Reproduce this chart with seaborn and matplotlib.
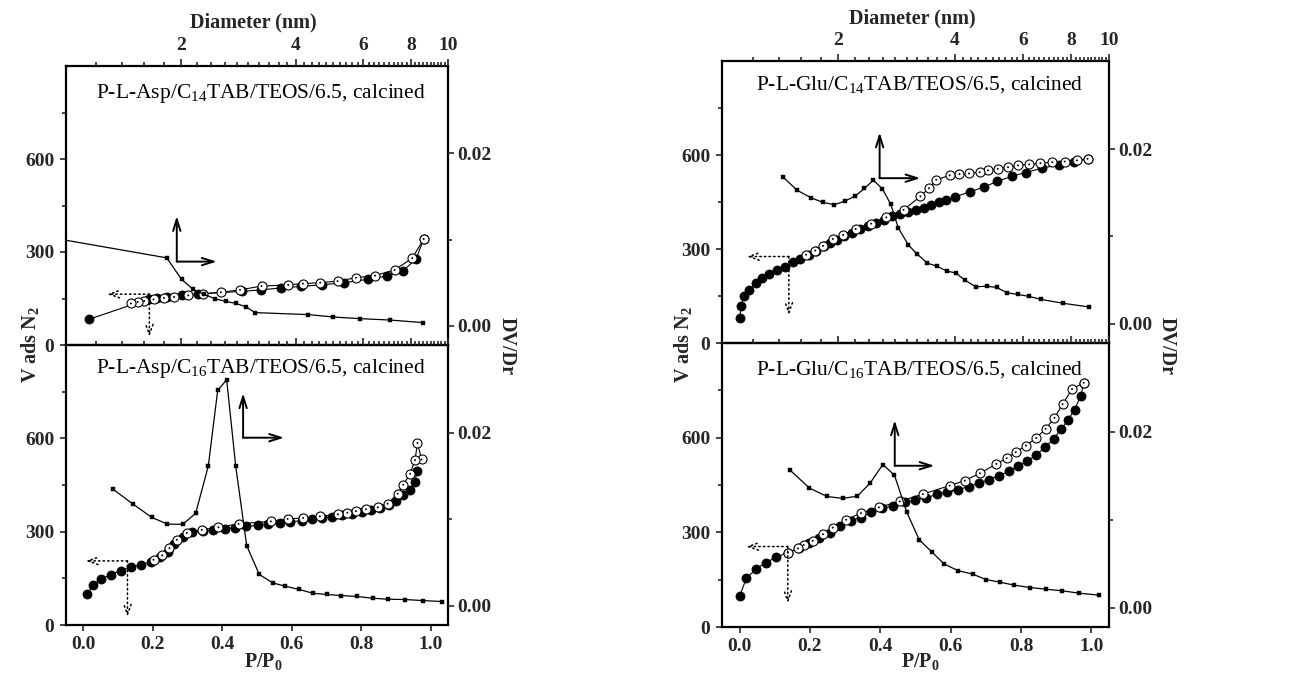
import numpy as np
import matplotlib
matplotlib.use('Agg')
import matplotlib.pyplot as plt
import seaborn as sns
from matplotlib.ticker import NullFormatter

# ---------------- data ----------------
# P-L-Asp / C14TAB
asp14_ads_p = [0.016, 0.188, 0.211, 0.242, 0.283, 0.331, 0.458, 0.511, 0.569, 0.626, 0.687,
               0.750, 0.820, 0.873, 0.921, 0.958, 0.980]
asp14_ads_v = [83, 148, 153, 156, 160, 165, 173, 178, 184, 189, 194, 201, 212, 222, 240, 277, 342]
asp14_des_p = [0.980, 0.947, 0.896, 0.840, 0.785, 0.732, 0.682, 0.632, 0.590, 0.513, 0.451,
               0.396, 0.345, 0.302, 0.261, 0.232, 0.202, 0.175, 0.156, 0.137]
asp14_des_v = [342, 280, 242, 224, 217, 206, 201, 198, 194, 190, 178, 170, 165, 160, 155, 152,
               147, 142, 139, 134]
asp14_dv_d = [0.95, 1.835, 2.008, 2.154, 2.298, 2.455, 2.618, 2.781, 2.954, 3.125, 4.31, 5.01,
              5.88, 7.05, 8.62]
asp14_dv_y = [0.0101, 0.00789, 0.00539, 0.00423, 0.00366, 0.00316, 0.00285, 0.00262, 0.00224,
              0.00155, 0.00132, 0.00104, 0.00085, 0.00069, 0.00039]

# P-L-Asp / C16TAB
asp16_ads_p = [0.011, 0.029, 0.052, 0.079, 0.107, 0.136, 0.167, 0.195, 0.222, 0.245, 0.262,
               0.286, 0.314, 0.345, 0.374, 0.407, 0.436, 0.469, 0.502, 0.533, 0.565, 0.595,
               0.629, 0.659, 0.686, 0.717, 0.745, 0.774, 0.803, 0.829, 0.854, 0.879, 0.900,
               0.921, 0.940, 0.955, 0.960]
asp16_ads_v = [100, 129, 148, 162, 175, 185, 194, 203, 217, 234, 260, 283, 298, 302, 305, 310,
               313, 317, 320, 325, 329, 332, 335, 340, 344, 347, 352, 358, 362, 369, 376, 386,
               400, 417, 433, 460, 495]
asp16_des_p = [0.974, 0.962, 0.955, 0.941, 0.921, 0.905, 0.876, 0.848, 0.814, 0.785, 0.760,
               0.733, 0.681, 0.633, 0.588, 0.540, 0.447, 0.389, 0.341, 0.298, 0.269, 0.248,
               0.227, 0.202]
asp16_des_v = [532, 585, 530, 486, 451, 422, 390, 378, 372, 366, 361, 356, 349, 344, 341, 333,
               325, 314, 306, 296, 274, 247, 224, 210]
asp16_dv_d = [1.325, 1.501, 1.676, 1.842, 2.020, 2.185, 2.358, 2.495, 2.634, 2.781, 2.972,
              3.207, 3.475, 3.745, 4.074, 4.423, 4.813, 5.236, 5.768, 6.350, 6.98, 7.72, 8.58,
              9.63]
asp16_dv_y = [0.01349, 0.01172, 0.01022, 0.00944, 0.00941, 0.01068, 0.01615, 0.02486, 0.02609,
              0.01615, 0.00694, 0.00363, 0.00266, 0.00228, 0.00190, 0.00147, 0.00132, 0.00120,
              0.00109, 0.00089, 0.00077, 0.00074, 0.00062, 0.00051]

# P-L-Glu / C14TAB
glu14_ads_p = [0.000, 0.005, 0.012, 0.026, 0.046, 0.064, 0.085, 0.106, 0.128, 0.152, 0.173,
               0.196, 0.218, 0.239, 0.256, 0.277, 0.298, 0.319, 0.341, 0.365, 0.388, 0.410,
               0.434, 0.457, 0.478, 0.502, 0.523, 0.545, 0.567, 0.588, 0.611, 0.654, 0.695,
               0.733, 0.774, 0.813, 0.860, 0.907, 0.950, 0.989]
glu14_ads_v = [80, 119, 151, 170, 190, 207, 220, 232, 244, 257, 268, 281, 293, 308, 318, 328,
               340, 352, 363, 374, 384, 393, 405, 411, 417, 425, 432, 441, 449, 457, 466, 482,
               498, 516, 532, 544, 558, 569, 577, 588]
glu14_des_p = [0.989, 0.959, 0.924, 0.889, 0.855, 0.823, 0.791, 0.763, 0.734, 0.706, 0.682,
               0.652, 0.625, 0.597, 0.559, 0.538, 0.514, 0.466, 0.417, 0.374, 0.330, 0.294,
               0.265, 0.237, 0.215, 0.189]
glu14_des_v = [588, 583, 579, 577, 574, 570, 567, 561, 556, 551, 545, 541, 539, 535, 521, 494,
               468, 425, 401, 381, 364, 345, 332, 310, 295, 282]
glu14_dv_d = [1.437, 1.562, 1.697, 1.822, 1.952, 2.080, 2.208, 2.333, 2.461, 2.597, 2.729,
              2.856, 3.030, 3.186, 3.393, 3.587, 3.807, 4.023, 4.244, 4.531, 4.829, 5.123,
              5.457, 5.803, 6.217, 6.665, 7.607, 8.879]
glu14_dv_y = [0.01682, 0.01531, 0.01444, 0.01391, 0.01364, 0.01406, 0.01463, 0.01550, 0.01644,
              0.01546, 0.01369, 0.01096, 0.00904, 0.00802, 0.00695, 0.00661, 0.00604, 0.00582,
              0.00499, 0.00423, 0.00431, 0.00416, 0.00355, 0.00337, 0.00314, 0.00280, 0.00235,
              0.00193]

# P-L-Glu / C16TAB
glu16_ads_p = [0.000, 0.019, 0.046, 0.074, 0.104, 0.137, 0.169, 0.197, 0.226, 0.256, 0.284,
               0.316, 0.344, 0.374, 0.406, 0.436, 0.469, 0.499, 0.531, 0.561, 0.590, 0.621,
               0.651, 0.681, 0.709, 0.737, 0.766, 0.792, 0.818, 0.843, 0.869, 0.893, 0.914,
               0.933, 0.952, 0.970, 0.978]
glu16_ads_v = [97, 154, 183, 204, 221, 236, 249, 265, 281, 299, 319, 337, 347, 363, 376, 384,
               395, 402, 410, 420, 427, 435, 445, 456, 467, 480, 493, 510, 525, 546, 570, 597,
               626, 655, 689, 732, 774]
glu16_des_p = [0.978, 0.945, 0.918, 0.895, 0.870, 0.843, 0.814, 0.785, 0.759, 0.730, 0.683,
               0.640, 0.597, 0.521, 0.455, 0.396, 0.345, 0.303, 0.265, 0.237, 0.208, 0.182,
               0.166, 0.137]
glu16_des_v = [774, 754, 706, 663, 628, 599, 575, 554, 535, 517, 487, 464, 448, 421, 398, 379,
               361, 340, 315, 294, 273, 260, 249, 236]
glu16_dv_d = [1.501, 1.683, 1.866, 2.052, 2.239, 2.414, 2.603, 2.789, 3.002, 3.235, 3.494,
              3.752, 4.078, 4.441, 4.808, 5.224, 5.687, 6.244, 6.866, 7.580, 8.368, 9.423]
glu16_dv_y = [0.01562, 0.01360, 0.01265, 0.01242, 0.01269, 0.01417, 0.01627, 0.01509, 0.01086,
              0.00770, 0.00629, 0.00496, 0.00420, 0.00382, 0.00320, 0.00290, 0.00256, 0.00229,
              0.00210, 0.00191, 0.00165, 0.00142]

panel_titles = [r"P-L-Asp/C$_{14}$TAB/TEOS/6.5, calcined",
                r"P-L-Asp/C$_{16}$TAB/TEOS/6.5, calcined",
                r"P-L-Glu/C$_{14}$TAB/TEOS/6.5, calcined",
                r"P-L-Glu/C$_{16}$TAB/TEOS/6.5, calcined"]
left_ticks = [0, 300, 600]
right_ticks = [0.00, 0.02]
right_tick_labels = ['0.00', '0.02']
bottom_ticks = [0.0, 0.2, 0.4, 0.6, 0.8, 1.0]
top_ticks = [2, 4, 6, 8, 10]

# annotation arrows (corner P, corner V, left/right P end, up/down V end)
solid_arrows = [(0.269, 269, 0.384, 416), (0.460, 602, 0.578, 745),
                (0.398, 526, 0.514, 672), (0.441, 511, 0.554, 655)]
dotted_arrows = [(0.190, 164, 0.069, 27), (0.127, 206, 0.007, 27),
                 (0.140, 276, 0.021, 90), (0.137, 255, 0.019, 76)]

# ---------------- style ----------------
sns.set_theme(style='ticks')
plt.rcParams['font.family'] = ['Liberation Serif', 'DejaVu Serif']
plt.rcParams['mathtext.fontset'] = 'custom'
plt.rcParams['mathtext.rm'] = 'Liberation Serif'
plt.rcParams['mathtext.it'] = 'Liberation Serif:italic'
plt.rcParams['mathtext.bf'] = 'Liberation Serif:bold'

fig = plt.figure(figsize=(13.01, 6.75), dpi=100)
W, H = 1301.0, 675.0


def rect(x0, y0, x1, y1):
    return [x0 / W, 1 - y1 / H, (x1 - x0) / W, (y1 - y0) / H]


rects = [rect(66, 66, 448, 345), rect(66, 345, 448, 625),
         rect(722, 61, 1109, 343), rect(722, 343, 1109, 627)]
datasets = [
    (asp14_ads_p, asp14_ads_v, asp14_des_p, asp14_des_v, asp14_dv_d, asp14_dv_y),
    (asp16_ads_p, asp16_ads_v, asp16_des_p, asp16_des_v, asp16_dv_d, asp16_dv_y),
    (glu14_ads_p, glu14_ads_v, glu14_des_p, glu14_des_v, glu14_dv_d, glu14_dv_y),
    (glu16_ads_p, glu16_ads_v, glu16_des_p, glu16_des_v, glu16_dv_d, glu16_dv_y),
]
title_y = [0.885, 0.900, 0.897, 0.888]
is_top = [True, False, True, False]

tickfont = dict(fontsize=14, fontweight='bold')
minor_d = [v for v in np.round(np.arange(1.2, 10.0, 0.2), 1) if v not in (2.0, 4.0, 6.0, 8.0)]

for i in range(4):
    ap, av, dp, dvv, dd, dy = datasets[i]
    ax = fig.add_axes(rects[i])
    ax.set_facecolor('none')
    # adsorption (filled)
    sns.lineplot(x=ap, y=av, ax=ax, sort=False, estimator=None, color='black', lw=0.8,
                 marker='o', markersize=6.5, markerfacecolor='black',
                 markeredgecolor='black', markeredgewidth=0.6)
    # desorption (open, dotted centre)
    sns.lineplot(x=dp, y=dvv, ax=ax, sort=False, estimator=None, color='black', lw=0.8,
                 marker='o', markersize=6.5, markerfacecolor='white',
                 markeredgecolor='black', markeredgewidth=0.8)
    sns.scatterplot(x=dp, y=dvv, ax=ax, s=2, color='black', edgecolor='none', zorder=5)
    ax.set_xlim(-0.05, 1.05)
    ax.set_ylim(0, 900)
    ax.set_xlabel('')
    ax.set_ylabel('')
    ax.set_yticks(left_ticks)
    ax.set_yticklabels([str(t) for t in left_ticks], **tickfont)
    ax.set_yticks([150, 450, 750], minor=True)
    ax.tick_params(axis='y', which='both', left=True, right=False, direction='out', width=1.2)
    ax.tick_params(axis='y', which='major', length=4.5, pad=4)
    ax.tick_params(axis='y', which='minor', length=3)
    if is_top[i]:
        ax.set_xticks([])
        ax.tick_params(axis='x', bottom=False, labelbottom=False)
    else:
        ax.set_xticks(bottom_ticks)
        ax.set_xticklabels(['%.1f' % t for t in bottom_ticks], **tickfont)
        ax.tick_params(axis='x', which='major', direction='out', length=4, width=1.2, pad=4)
    for s in ax.spines.values():
        s.set_linewidth(1.6)
        s.set_color('black')
        s.set_visible(True)

    # arrows
    cx, cy, ex, ey = solid_arrows[i]
    ap_kw = dict(arrowstyle='->,head_length=0.7,head_width=0.22', lw=1.4, color='black',
                 shrinkA=0, shrinkB=0)
    ax.annotate('', xy=(cx, ey), xytext=(cx, cy), arrowprops=ap_kw)
    ax.annotate('', xy=(ex, cy), xytext=(cx, cy), arrowprops=ap_kw)
    cx, cy, ex, ey = dotted_arrows[i]
    dp_kw = dict(arrowstyle='->,head_length=0.6,head_width=0.22', lw=1.1, color='black',
                 linestyle=(0, (1, 2)), shrinkA=0, shrinkB=0)
    ax.annotate('', xy=(ex, cy), xytext=(cx, cy), arrowprops=dp_kw)
    ax.annotate('', xy=(cx, ey), xytext=(cx, cy), arrowprops=dp_kw)

    ax.text(0.51, title_y[i], panel_titles[i], transform=ax.transAxes, ha='center',
            va='baseline', fontsize=15.5, color='black')

    # DV/Dr axes (diameter, log)
    axd = fig.add_axes(rects[i], frameon=False, label='dv%d' % i)
    axd.set_facecolor('none')
    sns.lineplot(x=dd, y=dy, ax=axd, sort=False, estimator=None, color='black', lw=0.9,
                 marker='s', markersize=2.6, markerfacecolor='black',
                 markeredgecolor='black', markeredgewidth=0.3)
    axd.set_xscale('log')
    axd.set_xlim(1, 10)
    axd.set_ylim(-0.0022, 0.0301)
    axd.set_xlabel('')
    axd.set_ylabel('')
    axd.yaxis.tick_right()
    axd.xaxis.tick_top()
    axd.set_yticks(right_ticks)
    axd.set_yticklabels(right_tick_labels, **tickfont)
    axd.set_yticks([0.01], minor=True)
    axd.yaxis.set_minor_formatter(NullFormatter())
    axd.tick_params(axis='y', which='both', left=False, right=True, labelleft=False,
                    labelright=True, direction='out', width=1.2)
    axd.tick_params(axis='y', which='major', length=4.5, pad=2)
    axd.tick_params(axis='y', which='minor', length=3)
    axd.set_xticks(top_ticks)
    axd.set_xticks(minor_d, minor=True)
    axd.xaxis.set_minor_formatter(NullFormatter())
    if is_top[i]:
        axd.set_xticklabels([str(t) for t in top_ticks], **tickfont)
    else:
        axd.set_xticklabels([])
    axd.tick_params(axis='x', which='both', bottom=False, top=True, labelbottom=False,
                    labeltop=is_top[i], direction='out', width=1.2)
    axd.tick_params(axis='x', which='major', length=5, pad=3.5)
    axd.tick_params(axis='x', which='minor', length=3)

# shared labels
lab = dict(fontsize=14.5, fontweight='bold', ha='center', va='center')
for xl, xr in [(30, 507), (683, 1167)]:
    fig.text(xl / W, 1 - 345 / H, r"V ads N$_\mathbf{2}$", rotation=90, **lab)
    fig.text(xr / W, 1 - 346 / H, "DV/Dr", rotation=270, **lab)
labb = dict(fontsize=14.5, fontweight='bold', ha='center', va='top')
fig.text(263 / W, 1 - 651 / H, r"P/P$_\mathbf{0}$", **labb)
fig.text(920 / W, 1 - 651 / H, r"P/P$_\mathbf{0}$", **labb)
fig.text(253 / W, 1 - 22 / H, "Diameter (nm)", **lab)
fig.text(912 / W, 1 - 18 / H, "Diameter (nm)", **lab)

fig.savefig('out.png', dpi=100, facecolor='white')
